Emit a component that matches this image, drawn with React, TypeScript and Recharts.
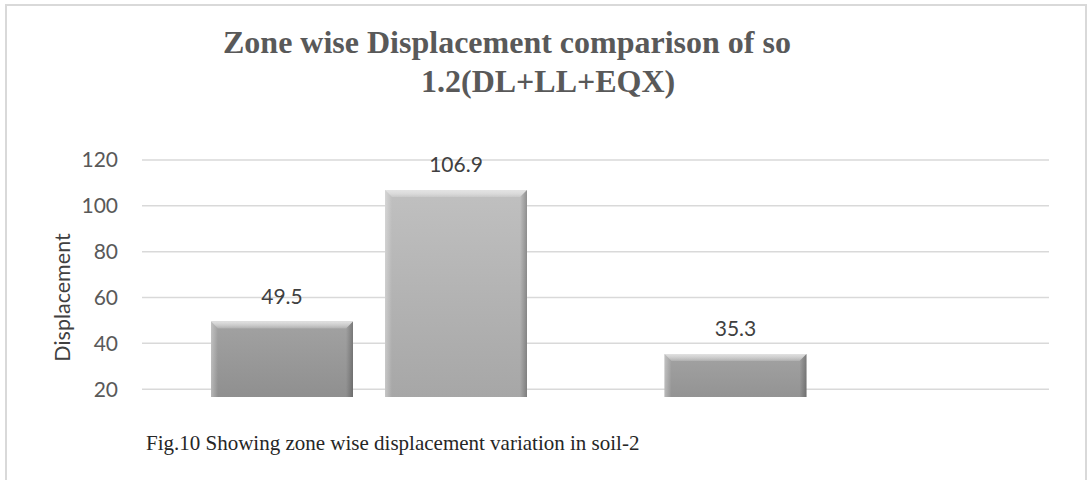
import { Bar, BarChart, CartesianGrid, LabelList, XAxis, YAxis } from 'recharts';

const zones = ['Zone A', 'Zone B'];
const seriesOne = [49.5, 35.3];
const seriesTwo = [106.9, null];
const yTicks = [20, 40, 60, 80, 100, 120];

const data = zones.map((zone, i) => ({ zone, s1: seriesOne[i], s2: seriesTwo[i] }));

const labelFont = 'Lato, "Open Sans", sans-serif';

// bevelled bar, roughly like the office "3D" preset
function BevelBar(props: any) {
  const { x, y, width, height, fill, bevelId } = props;
  if (height == null || height <= 0) return null;
  const b = 7;
  return (
    <g>
      <rect x={x} y={y} width={width} height={height} fill={fill} />
      <polygon
        points={`${x},${y} ${x + width},${y} ${x + width - b},${y + b} ${x + b},${y + b}`}
        fill={`url(#${bevelId}-top)`}
      />
      <polygon
        points={`${x},${y} ${x + b},${y + b} ${x + b},${y + height} ${x},${y + height}`}
        fill={`url(#${bevelId}-left)`}
      />
      <polygon
        points={`${x + width},${y} ${x + width - b},${y + b} ${x + width - b},${y + height} ${x + width},${y + height}`}
        fill={`url(#${bevelId}-right)`}
      />
    </g>
  );
}

export default function App() {
  return (
    <div style={{ position: 'relative', width: 1091, height: 480, overflow: 'hidden', background: '#fff' }}>
      <style>{`body{margin:0}`}</style>
      <div
        style={{
          position: 'absolute',
          left: 5,
          top: 4,
          width: 1082,
          height: 490,
          border: '2px solid #d9d9d9',
          boxSizing: 'border-box',
        }}
      />
      <div
        style={{
          position: 'absolute',
          left: 0,
          top: 0,
          width: 1091,
          fontFamily: '"Liberation Serif", "Times New Roman", serif',
          fontWeight: 'bold',
          color: '#595959',
          fontSize: 32,
          lineHeight: '40px',
        }}
      >
        <div style={{ position: 'absolute', left: 223, top: 22, whiteSpace: 'nowrap' }}>
          Zone wise Displacement comparison of so
        </div>
        <div style={{ position: 'absolute', left: 421, top: 61, whiteSpace: 'nowrap' }}>1.2(DL+LL+EQX)</div>
      </div>
      <div style={{ position: 'absolute', left: 0, top: 0, width: 1091, height: 397, overflow: 'hidden' }}>
        <BarChart
          width={1091}
          height={480}
          data={data}
          margin={{ top: 160, right: 42, left: 0, bottom: 45 }}
          barSize={142}
          barGap={32}
        >
          <defs>
            <linearGradient id="g1" x1="0" y1="0" x2="0" y2="1">
              <stop offset="0%" stopColor="#a2a2a2" />
              <stop offset="100%" stopColor="#868686" />
            </linearGradient>
            <linearGradient id="g2" x1="0" y1="0" x2="0" y2="1">
              <stop offset="0%" stopColor="#c0c0c0" />
              <stop offset="100%" stopColor="#a2a2a2" />
            </linearGradient>
            <linearGradient id="bv-top" x1="0" y1="0" x2="0" y2="1">
              <stop offset="0%" stopColor="#e6e6e6" stopOpacity={0.9} />
              <stop offset="100%" stopColor="#ffffff" stopOpacity={0.15} />
            </linearGradient>
            <linearGradient id="bv-left" x1="0" y1="0" x2="1" y2="0">
              <stop offset="0%" stopColor="#ffffff" stopOpacity={0.35} />
              <stop offset="100%" stopColor="#ffffff" stopOpacity={0} />
            </linearGradient>
            <linearGradient id="bv-right" x1="0" y1="0" x2="1" y2="0">
              <stop offset="0%" stopColor="#000000" stopOpacity={0} />
              <stop offset="100%" stopColor="#000000" stopOpacity={0.25} />
            </linearGradient>
          </defs>
          <CartesianGrid vertical={false} stroke="#d9d9d9" strokeWidth={1.5} />
          <XAxis dataKey="zone" hide />
          <YAxis
            domain={[0, 120]}
            ticks={yTicks}
            axisLine={false}
            tickLine={false}
            tickSize={0}
            tickMargin={24}
            width={142}
            tick={{ fontSize: 21, fill: '#595959', fontFamily: labelFont }}
            label={{
              value: 'Displacement',
              angle: -90,
              position: 'center',
              dx: -9,
              style: { fontSize: 21.5, fill: '#404040', fontFamily: labelFont },
            }}
          />
          <Bar
            dataKey="s1"
            fill="url(#g1)"
            isAnimationActive={false}
            shape={(p: any) => <BevelBar {...p} bevelId="bv" />}
          >
            <LabelList
              dataKey="s1"
              position="top"
              offset={18}
              style={{ fontSize: 21, fill: '#404040', fontFamily: labelFont }}
            />
          </Bar>
          <Bar
            dataKey="s2"
            fill="url(#g2)"
            isAnimationActive={false}
            shape={(p: any) => <BevelBar {...p} bevelId="bv" />}
          >
            <LabelList
              dataKey="s2"
              position="top"
              offset={18}
              style={{ fontSize: 21, fill: '#404040', fontFamily: labelFont }}
            />
          </Bar>
        </BarChart>
      </div>
      <div
        style={{
          position: 'absolute',
          left: 146,
          top: 430,
          whiteSpace: 'nowrap',
          fontFamily: '"Liberation Serif", "Times New Roman", serif',
          fontSize: 21,
          lineHeight: '26px',
          color: '#262626',
        }}
      >
        Fig.10 Showing zone wise displacement variation in soil-2
      </div>
    </div>
  );
}
